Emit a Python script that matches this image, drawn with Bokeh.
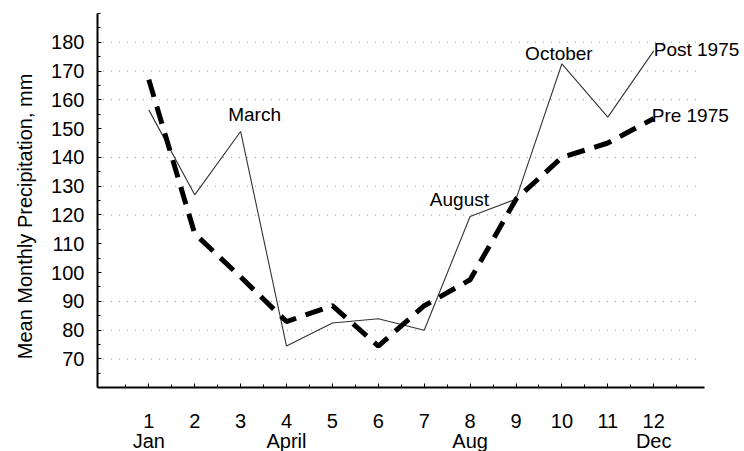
import math
from bokeh.plotting import figure
from bokeh.models import Range1d, FixedTicker, Label
from bokeh.embed import file_html
from bokeh.resources import INLINE

# ---- data ----
months = list(range(1, 13))
post_1975 = [156.5, 127, 149, 74.5, 82.5, 84, 80, 119.5, 125.5, 172.5, 154, 177]
pre_1975 = [167, 113.5, 98.5, 83, 88.5, 74.5, 88.5, 97.5, 125.5, 140, 145, 153.5]
x_tick_values = list(range(1, 13))
x_minor_values = [m + 0.5 for m in range(0, 13)]
y_tick_values = list(range(70, 190, 10))
y_minor_values = list(range(60, 195, 5))
grid_values = [70, 80, 90, 120, 130, 140, 160, 170, 180]
month_ticks = [1, 4, 8, 12]
month_names = ["Jan", "April", "Aug", "Dec"]
y_title = "Mean Monthly Precipitation, mm"

FONT = "Liberation Sans"
X_MIN, X_MAX = -0.12, 13.1
Y_MIN, Y_MAX = 60, 190

# the frame covers the whole canvas; axes are pinned at the data corner
p = figure(width=744, height=451, output_backend="svg", toolbar_location=None,
           x_range=Range1d(-2.231, 13.978), y_range=Range1d(37.88, 194.48),
           min_border_left=0, min_border_right=0, min_border_top=0, min_border_bottom=0)
p.outline_line_color = None
p.background_fill_color = "white"
p.border_fill_color = "white"

xa = p.xaxis[0]
xa.ticker = FixedTicker(ticks=x_tick_values, minor_ticks=x_minor_values)
xa.bounds = (X_MIN, X_MAX)
xa.fixed_location = Y_MIN
labels = {t: str(t) for t in x_tick_values}
for t, n in zip(month_ticks, month_names):
    labels[t] = f"{t}\n{n}"
xa.major_label_overrides = labels

ya = p.yaxis[0]
ya.ticker = FixedTicker(ticks=y_tick_values, minor_ticks=y_minor_values)
ya.bounds = (Y_MIN, Y_MAX)
ya.fixed_location = X_MIN

for ax in (xa, ya):
    ax.axis_line_width = 2
    ax.axis_line_color = "black"
    ax.major_tick_in = 4
    ax.major_tick_out = 0
    ax.minor_tick_in = 3
    ax.minor_tick_out = 0
    ax.major_tick_line_color = "black"
    ax.minor_tick_line_color = "black"
    ax.major_label_text_font = FONT
    ax.major_label_text_font_size = "20px"
    ax.major_label_text_color = "black"
xa.major_label_standoff = 22
xa.major_label_text_line_height = 0.92
xa.major_label_text_align = "center"
ya.major_label_standoff = 13

# grid (dotted segments between the axes)
p.xgrid.grid_line_color = None
p.ygrid.grid_line_color = None
p.segment(x0=[0] * len(grid_values), y0=grid_values,
          x1=[13] * len(grid_values), y1=grid_values,
          line_color="#8a8a8a", line_dash="1 7", line_width=1)

# series
p.line(months, post_1975, line_color="#333333", line_width=1.1)
p.line(months, pre_1975, line_color="black", line_width=5, line_dash="18 10")

def lab(text, x, y, align, dx, dy, size="19px", angle=0.0):
    p.add_layout(Label(x=x, y=y, text=text, text_align=align, text_baseline="middle",
                       x_offset=dx, y_offset=dy, angle=angle,
                       text_font=FONT, text_font_size=size, text_color="black"))

lab("March", 3, post_1975[2], "center", 14, 17)
lab("October", 10, post_1975[9], "center", -3, 10)
lab("August", 9, post_1975[8], "right", -27, 0)
lab("Post 1975", 12, post_1975[11], "left", 0, 1)
lab("Pre 1975", 12, pre_1975[11], "left", -2, 3)

# y-axis title
lab(y_title, -1.708, 119.5, "center", 0, 0, size="20px", angle=math.pi / 2)

open("out.html", "w").write(file_html(p, INLINE))
